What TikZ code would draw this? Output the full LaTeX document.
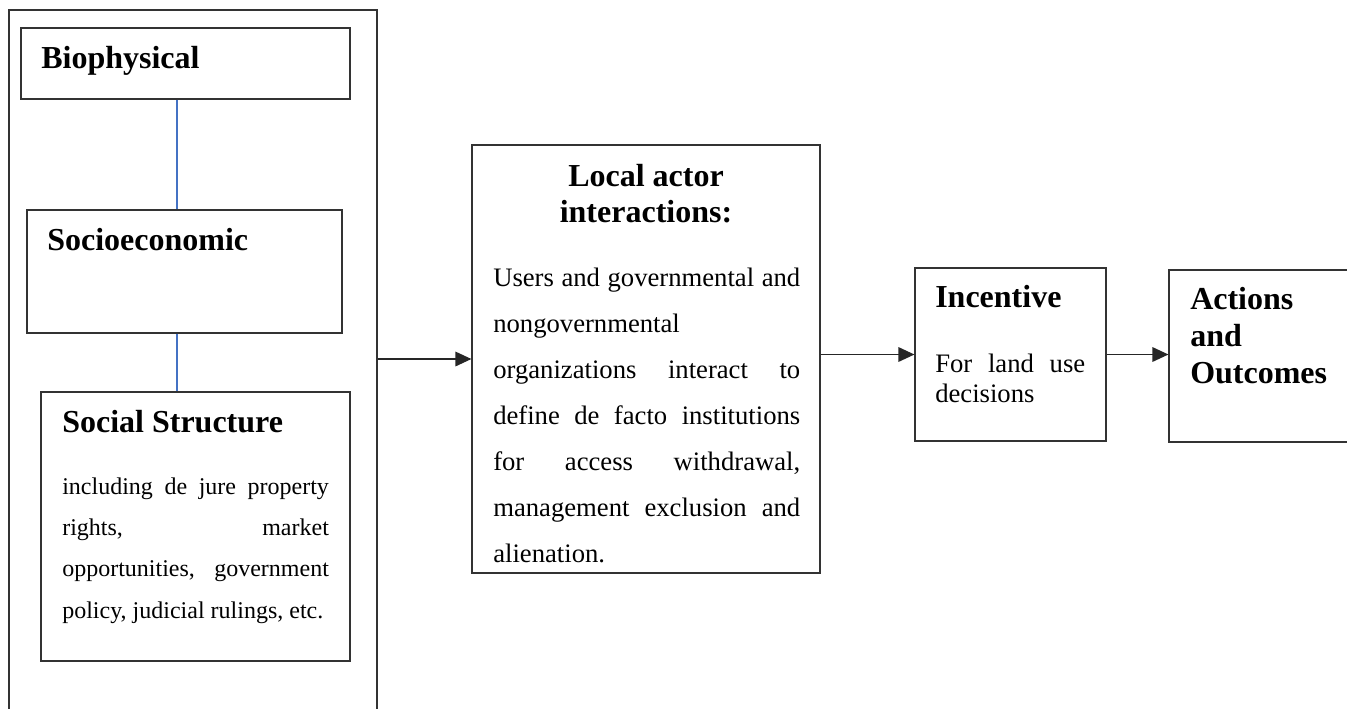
\documentclass[tikz,border=0pt]{standalone}
\usepackage{fontspec}
\setmainfont{Liberation Serif}
\usetikzlibrary{positioning, arrows.meta, fit}
\definecolor{linkblue}{RGB}{68,114,196}

\begin{document}
\begin{tikzpicture}[x=0.75pt, y=-0.75pt, >={Triangle[length=12pt,width=11pt]},
  panel/.style={draw=black!80, line width=0.9pt, inner sep=0pt},
  head/.style={font=\bfseries\fontsize{24}{27}\selectfont, inner sep=0pt, anchor=base west},
  body/.style={font=\fontsize{20}{34.6}\selectfont, inner sep=0pt, anchor=base west, align=justify},
  link/.style={draw=linkblue, line width=0.9pt},
  flow/.style={->, draw=black!85, line width=0.9pt}]
  \useasboundingbox (0,0) rectangle (1347,708);
  % left column
  \node[panel, fit={(9,10) (377,740)}] (frame) {};
  \node[panel, fit={(21,28) (350,99)}] (bio) {};
  \node[panel, fit={(27,210) (342,333)}] (socio) {};
  \node[panel, fit={(41,392) (350,661)}] (social) {};
  \node[head] (bio-t) at (41,68) {Biophysical};
  \node[head] (socio-t) at (47,250) {Socioeconomic};
  \node[head] (social-t) at (62,432) {Social Structure};
  \node[body, text width=200pt, font=\fontsize{18}{31}\selectfont] (social-b) at (62,494)
    {including de jure property\linebreak rights, market\linebreak
     opportunities, government\linebreak policy, judicial rulings, etc.};
  \coordinate (spine) at (177,0);
  \draw[link] (spine |- bio.south) -- (spine |- socio.north);
  \draw[link] (spine |- socio.south) -- (spine |- social.north);
  % local actors
  \node[panel, fit={(472,145) (820,573)}] (local) {};
  \node[head, anchor=base, align=center] (local-t) at (646,222) {Local actor\\interactions:};
  \node[body, text width=230.25pt] (local-b) at (493,286)
    {Users and governmental and\linebreak nongovernmental\linebreak
     organizations interact to\linebreak define de facto institutions\linebreak
     for access withdrawal,\linebreak management exclusion and\linebreak alienation.};
  % incentive and outcomes
  \node[panel, fit={(915,268) (1106,441)}] (inc) {};
  \node[head] (inc-t) at (935,307) {Incentive};
  \node[body, text width=112.5pt, font=\fontsize{20}{22.5}\selectfont] (inc-b) at (935,372)
    {For land use\linebreak decisions};
  \node[panel, fit={(1169,270) (1370,442)}] (act) {};
  \node[head, align=left, font=\bfseries\fontsize{24}{27.4}\selectfont] (act-t) at (1190,383)
    {Actions\\and\\Outcomes};
  % arrows
  \draw[flow] (frame.east |- local.west) -- (local.west);
  \draw[flow] (local.east |- inc.west) -- (inc.west);
  \draw[flow] (inc.east) -- (inc.east -| act.west);
\end{tikzpicture}
\end{document}
